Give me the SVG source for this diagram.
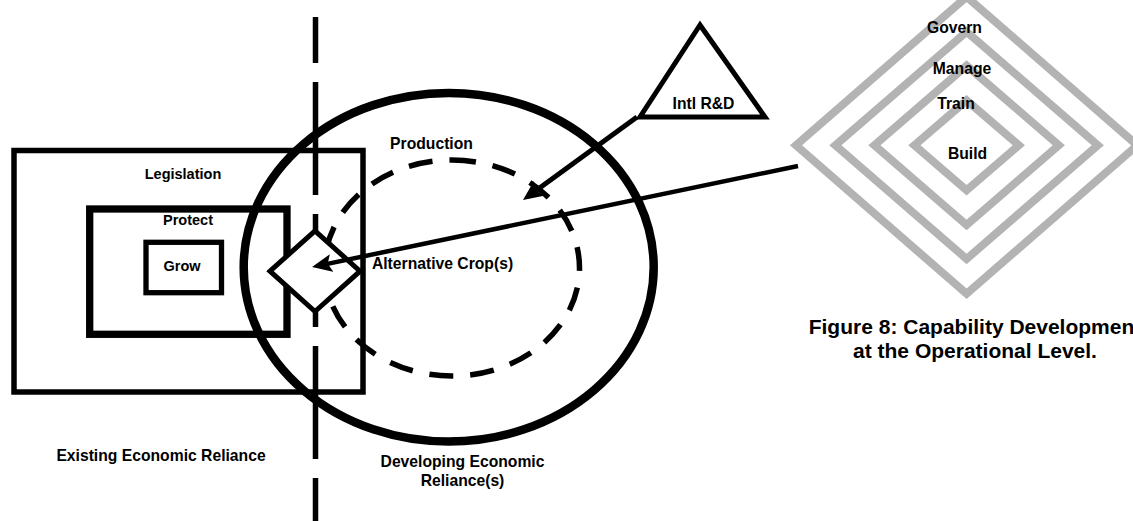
<svg xmlns="http://www.w3.org/2000/svg" width="1133" height="521" viewBox="0 0 1133 521">
<style>
text{font-family:"Liberation Sans",Arial,sans-serif;font-weight:bold;fill:#000;text-anchor:middle}
.lbl{font-size:15.7px}
.sm{font-size:14.5px}
.cap{font-size:21px}
.blk{fill:none;stroke:#000}
.gry{fill:none;stroke:#b3b3b3;stroke-width:8}
</style>
<defs>
<marker id="ah" markerUnits="userSpaceOnUse" markerWidth="21" markerHeight="19" refX="8" refY="9" orient="auto">
<path d="M0,0 L20,9 L0,18 L4,9 z" fill="#000"/>
</marker>
</defs>
<rect width="1133" height="521" fill="#fff"/>

<g id="legislation">
<rect class="blk" x="14" y="150.5" width="349" height="241.5" stroke-width="5.5"/>
<text class="sm" x="183" y="179.3">Legislation</text>
</g>
<g id="protect">
<rect class="blk" x="89.7" y="209" width="197.3" height="125.3" stroke-width="7.3"/>
<text class="sm" x="188" y="225">Protect</text>
</g>
<g id="grow">
<rect class="blk" x="146" y="242.3" width="75.5" height="50.4" stroke-width="5.3"/>
<text class="sm" x="182" y="271">Grow</text>
</g>

<g id="developing">
<ellipse class="blk" cx="448.7" cy="267.2" rx="205" ry="174.3" stroke-width="8.5"/>
<text class="lbl" x="462.5" y="466.5">Developing Economic</text>
<text class="lbl" x="462.5" y="486">Reliance(s)</text>
</g>

<g id="production">
<path class="blk" d="M452,160 A127.5,108 0 0 1 452,376 A127.5,108 0 0 1 452,160" stroke-width="5.5" stroke-dasharray="24 17"/>
<text class="lbl" x="431.5" y="149">Production</text>
</g>

<g id="divider">
<line class="blk" x1="315.5" y1="17" x2="315.5" y2="521" stroke-width="5.5" stroke-dasharray="113 19" stroke-dashoffset="67"/>
</g>

<g id="existing">
<text class="lbl" x="161" y="461">Existing Economic Reliance</text>
</g>

<g id="alternative">
<polygon points="270,271.2 315,230.8 360,271.2 315,311.5" fill="#fff" stroke="#000" stroke-width="5"/>
<text class="lbl" x="442.5" y="269">Alternative Crop(s)</text>
</g>

<g id="intl-rd">
<polygon class="blk" points="700,25 640,117 765,117" stroke-width="5"/>
<text class="lbl" x="703.5" y="109">Intl R&amp;D</text>
</g>

<g id="govern">
<polygon class="gry" points="796,145.3 966.6,-3.2 1137.2,145.3 966.6,293.8"/>
</g>
<g id="manage">
<polygon class="gry" points="835.4,145.3 966.6,31.7 1097.8,145.3 966.6,258.9"/>
</g>
<g id="train">
<polygon class="gry" points="874.4,145.3 966.6,65.6 1058.8,145.3 966.6,225"/>
</g>
<g id="build">
<polygon class="gry" points="914.4,145.3 966.6,100.4 1018.8,145.3 966.6,190.2"/>
</g>
<g id="capability-labels">
<text class="lbl" x="954.5" y="32.5">Govern</text>
<text class="lbl" x="962" y="74">Manage</text>
<text class="lbl" x="956" y="109">Train</text>
<text class="lbl" x="967.5" y="159">Build</text>
</g>

<g id="connectors">
<line x1="637" y1="117" x2="532.7" y2="193" stroke="#000" stroke-width="5" marker-end="url(#ah)"/>
<line x1="798" y1="166" x2="323.8" y2="264.6" stroke="#000" stroke-width="4.5" marker-end="url(#ah)"/>
</g>

<g id="caption">
<text class="cap" x="975" y="334">Figure 8: Capability Development</text>
<text class="cap" x="975" y="358">at the Operational Level.</text>
</g>
</svg>
